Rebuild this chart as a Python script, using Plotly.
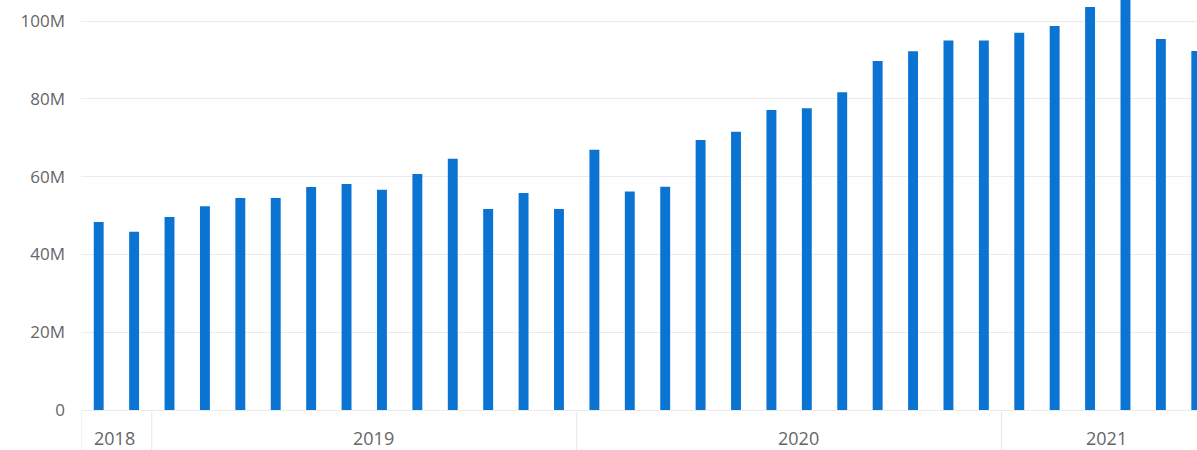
import plotly.graph_objects as go

months = ["2018-11", "2018-12",
          "2019-01", "2019-02", "2019-03", "2019-04", "2019-05", "2019-06",
          "2019-07", "2019-08", "2019-09", "2019-10", "2019-11", "2019-12",
          "2020-01", "2020-02", "2020-03", "2020-04", "2020-05", "2020-06",
          "2020-07", "2020-08", "2020-09", "2020-10", "2020-11", "2020-12",
          "2021-01", "2021-02", "2021-03", "2021-04", "2021-05", "2021-06"]
values_m = [48.3, 45.8,
            49.6, 52.4, 54.5, 54.5, 57.3, 58.1, 56.6, 60.7, 64.6, 51.7, 55.8, 51.7,
            66.9, 56.2, 57.4, 69.4, 71.5, 77.1, 77.6, 81.7, 89.7, 92.2, 95.0, 95.0,
            97.0, 98.7, 103.6, 106.5, 95.4, 92.3]
years = ["2018", "2019", "2020", "2021"]
year_label_pos = [0.45, 7.75, 19.77, 28.47]
year_boundaries = [-0.5, 1.5, 13.5, 25.5]

values = [v * 1e6 for v in values_m]
xs = list(range(len(months)))

fig = go.Figure()
fig.add_trace(go.Bar(x=xs, y=values, marker=dict(color="#0B74D2", line=dict(width=0)),
                     width=0.28, customdata=months,
                     hovertemplate="%{customdata}: %{y}<extra></extra>"))

for yr, pos in zip(years, year_label_pos):
    fig.add_annotation(x=pos, y=-0.068, xref="x", yref="paper", text=yr,
                       showarrow=False, xanchor="center", yanchor="middle",
                       font=dict(family="Open Sans", size=18, color="#666666"))
for b in year_boundaries:
    fig.add_shape(type="line", x0=b, x1=b, xref="x", y0=-0.005, y1=-0.1, yref="paper",
                  line=dict(color="#E6E6E6", width=1))

fig.update_layout(
    width=1197, height=450,
    margin=dict(l=81, r=0, t=0, b=40),
    plot_bgcolor="white", paper_bgcolor="white",
    showlegend=False, bargap=0.72,
    font=dict(family="Open Sans", color="#666666"),
)
fig.update_xaxes(range=[-0.5, 31.02], showticklabels=False, showgrid=False,
                 zeroline=False, showline=False, ticks="")
fig.update_yaxes(range=[0, 105.4e6], tickvals=[0, 20e6, 40e6, 60e6, 80e6, 100e6],
                 ticktext=["0", "20M", "40M", "60M", "80M", "100M"],
                 showgrid=True, gridcolor="#EBEBEB", gridwidth=1,
                 zeroline=True, zerolinecolor="#EBEBEB", zerolinewidth=1,
                 showline=False, ticks="", ticklabelstandoff=15,
                 tickfont=dict(family="Open Sans", size=17, color="#666666"))

fig.write_html("out.html", config={"displayModeBar": False},
               post_script="document.body.style.margin='0';document.body.style.padding='0';document.body.style.overflow='hidden';")
